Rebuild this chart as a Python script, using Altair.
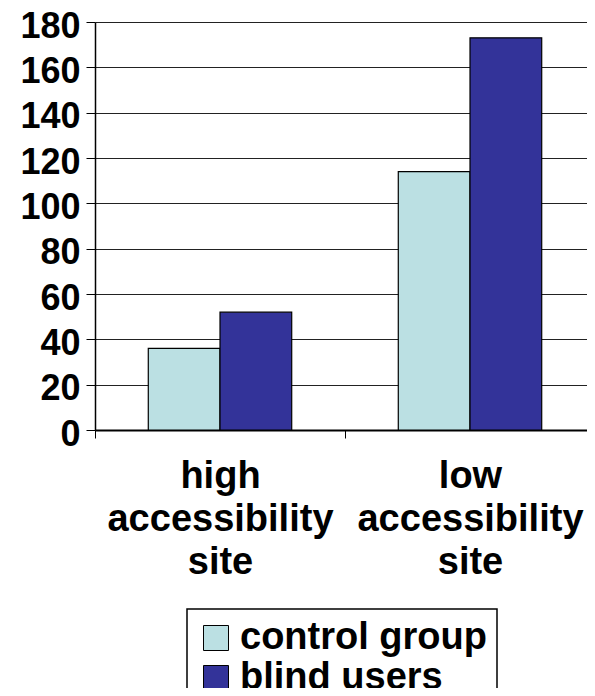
import altair as alt
import pandas as pd

sites = ["high accessibility site", "low accessibility site"]
groups = ["control group", "blind users"]
control_values = [36, 114]
blind_values = [52, 173]
y_ticks = [0, 20, 40, 60, 80, 100, 120, 140, 160, 180]
colors = ["#BBE0E3", "#333399"]

rows = []
for s, c, b in zip(sites, control_values, blind_values):
    rows.append({"site": s, "group": groups[0], "value": c})
    rows.append({"site": s, "group": groups[1], "value": b})
df = pd.DataFrame(rows)

FONT = "Liberation Sans"

chart = (
    alt.Chart(df)
    .mark_bar(stroke="black", strokeWidth=1.2)
    .encode(
        x=alt.X(
            "site:N",
            sort=sites,
            title=None,
            scale=alt.Scale(paddingInner=0, paddingOuter=0),
            axis=alt.Axis(
                labelAngle=0,
                labelExpr="isString(datum.value) ? split(datum.value, ' ') : ''",
                labelFont=FONT,
                labelFontSize=38,
                labelFontWeight="bold",
                labelColor="black",
                labelLineHeight=43,
                labelPadding=19,
                labelBaseline="top",
                labelLimit=0,
                tickBand="extent",
                tickSize=8,
                tickColor="black",
                tickWidth=1,
                domainColor="black",
                domainWidth=2,
                grid=False,
            ),
        ),
        xOffset=alt.XOffset(
            "group:N",
            sort=groups,
            scale=alt.Scale(paddingInner=0, paddingOuter=0.743),
        ),
        y=alt.Y(
            "value:Q",
            title=None,
            scale=alt.Scale(domain=[0, 180], nice=False),
            axis=alt.Axis(
                values=y_ticks,
                labelFont=FONT,
                labelFontSize=36,
                labelFontWeight="bold",
                labelColor="black",
                labelPadding=6,
                labelOffset=4,
                labelLimit=0,
                tickSize=9,
                tickColor="black",
                tickWidth=1,
                domainColor="black",
                domainWidth=1.5,
                grid=True,
                gridColor="#222222",
                gridWidth=1,
            ),
        ),
        color=alt.Color(
            "group:N",
            sort=groups,
            scale=alt.Scale(domain=groups, range=colors),
            legend=alt.Legend(
                title=None,
                orient="none",
                legendX=92,
                legendY=587,
                direction="vertical",
                symbolType="square",
                symbolSize=625,
                symbolStrokeColor="black",
                symbolStrokeWidth=1,
                symbolOffset=0,
                labelFont=FONT,
                labelFontSize=38,
                labelFontWeight="bold",
                labelColor="black",
                labelOffset=5,
                labelLimit=0,
                rowPadding=2,
                padding=10,
                strokeColor="black",
                fillColor="white",
            ),
        ),
    )
    .properties(
        width=500,
        height=408,
        autosize=alt.AutoSizeParams(type="none"),
        padding={"left": 87, "top": 14, "right": -8, "bottom": 258},
    )
    .configure_view(stroke=None)
    .configure_legend(strokeWidth=1.5)
)

chart.save("out.html", embed_options={"renderer": "svg", "actions": False})
